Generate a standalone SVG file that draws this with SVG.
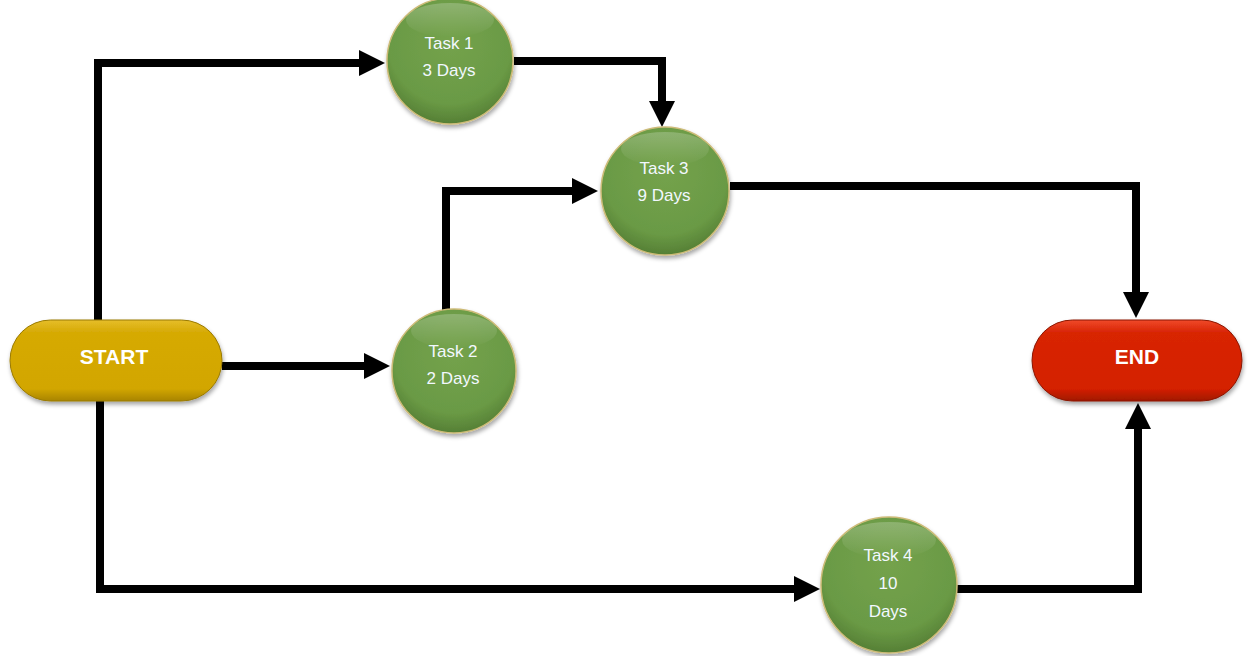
<svg xmlns="http://www.w3.org/2000/svg" width="1248" height="656" viewBox="0 0 1248 656">
  <defs>
    <radialGradient id="gGreen" cx="50%" cy="35%" r="65%">
      <stop offset="0" stop-color="#74A24C"/>
      <stop offset="0.75" stop-color="#6A9A45"/>
      <stop offset="1" stop-color="#557F35"/>
    </radialGradient>
    <linearGradient id="gGreenHi" x1="0" y1="0" x2="0" y2="1">
      <stop offset="0" stop-color="#ffffff" stop-opacity="0.22"/>
      <stop offset="1" stop-color="#ffffff" stop-opacity="0"/>
    </linearGradient>
    <linearGradient id="gYellow" x1="0" y1="0" x2="0" y2="1">
      <stop offset="0" stop-color="#E6BE2A"/>
      <stop offset="0.15" stop-color="#D6AA05"/>
      <stop offset="0.85" stop-color="#D2A600"/>
      <stop offset="1" stop-color="#A88400"/>
    </linearGradient>
    <linearGradient id="gRed" x1="0" y1="0" x2="0" y2="1">
      <stop offset="0" stop-color="#F04A2A"/>
      <stop offset="0.15" stop-color="#D82506"/>
      <stop offset="0.85" stop-color="#D42000"/>
      <stop offset="1" stop-color="#A01800"/>
    </linearGradient>
    <filter id="shadow" x="-20%" y="-20%" width="140%" height="150%">
      <feDropShadow dx="1" dy="3" stdDeviation="2" flood-color="#000" flood-opacity="0.35"/>
    </filter>
    <marker id="arrow" markerUnits="userSpaceOnUse" markerWidth="28" markerHeight="28" refX="2" refY="13" orient="auto">
      <path d="M0,0 L26,13 L0,26 z" fill="#000"/>
    </marker>
    <style>
      .conn { fill: none; stroke: #000; stroke-width: 8; stroke-linejoin: miter; marker-end: url(#arrow); }
      .task { fill: url(#gGreen); stroke: #CDBB78; stroke-width: 1.5; filter: url(#shadow); }
      .hi { fill: url(#gGreenHi); stroke: none; }
      .tt { font-family: "Liberation Sans", Arial, sans-serif; font-size: 17px; fill: #F2F8FF; text-anchor: middle; }
      .term { font-family: "Liberation Sans", Arial, sans-serif; font-size: 21px; font-weight: bold; fill: #FFFFFF; text-anchor: middle; }
      .pillY { fill: url(#gYellow); stroke: #9A7A00; stroke-width: 1; filter: url(#shadow); }
      .pillR { fill: url(#gRed); stroke: #8A1500; stroke-width: 1; filter: url(#shadow); }
    </style>
  </defs>

  <g id="connectors">
    <path class="conn" d="M98,320 L98,63 L361,63"/>
    <path class="conn" d="M222,366 L366,366"/>
    <path class="conn" d="M100,401 L100,589 L796,589"/>
    <path class="conn" d="M514,61 L662,61 L662,103"/>
    <path class="conn" d="M446,312 L446,191 L574,191"/>
    <path class="conn" d="M730,186 L1136,186 L1136,294"/>
    <path class="conn" d="M957,589 L1138,589 L1138,427"/>
  </g>

  <g id="start">
    <rect class="pillY" x="10" y="320" width="212" height="81" rx="40.5" ry="40.5"/>
    <text class="term" x="114" y="364">START</text>
  </g>

  <g id="end">
    <rect class="pillR" x="1032" y="320" width="210" height="81" rx="40.5" ry="40.5"/>
    <text class="term" x="1137" y="364">END</text>
  </g>

  <g id="task1">
    <circle class="task" cx="450" cy="61" r="63"/>
    <ellipse class="hi" cx="450" cy="20" rx="44" ry="17"/>
    <text class="tt" x="449" y="49">Task 1</text>
    <text class="tt" x="449" y="76">3 Days</text>
  </g>

  <g id="task2">
    <circle class="task" cx="454" cy="371" r="62"/>
    <ellipse class="hi" cx="454" cy="331" rx="43" ry="17"/>
    <text class="tt" x="453" y="357">Task 2</text>
    <text class="tt" x="453" y="384">2 Days</text>
  </g>

  <g id="task3">
    <circle class="task" cx="665" cy="191" r="64"/>
    <ellipse class="hi" cx="665" cy="149" rx="44" ry="17"/>
    <text class="tt" x="664" y="174">Task 3</text>
    <text class="tt" x="664" y="201">9 Days</text>
  </g>

  <g id="task4">
    <circle class="task" cx="889" cy="585" r="68"/>
    <ellipse class="hi" cx="889" cy="540" rx="47" ry="18"/>
    <text class="tt" x="888" y="561">Task 4</text>
    <text class="tt" x="888" y="589">10</text>
    <text class="tt" x="888" y="617">Days</text>
  </g>
</svg>
